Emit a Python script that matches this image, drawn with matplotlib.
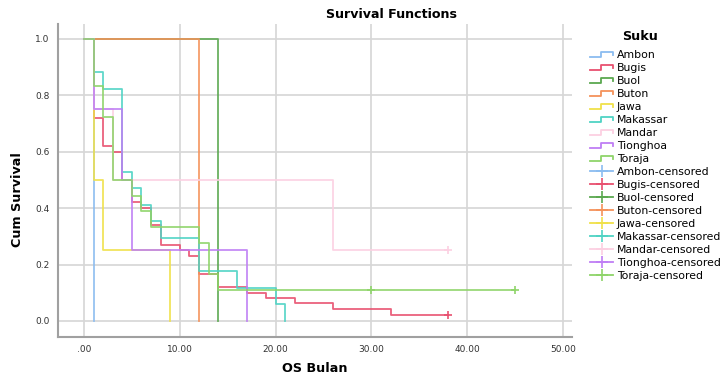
import numpy as np
import matplotlib.pyplot as plt
from matplotlib.lines import Line2D
from matplotlib.legend_handler import HandlerBase

# Kaplan-Meier curves per Suku (times in months, cumulative survival)
groups = ["Ambon", "Bugis", "Buol", "Buton", "Jawa", "Makassar", "Mandar", "Tionghoa", "Toraja"]

ambon_t = [0, 1]
ambon_s = [1.0, 0.0]

bugis_t = [0, 1, 2, 3, 4, 5, 6, 7, 8, 10, 11, 12, 14, 17, 19, 22, 26, 32, 38]
bugis_s = [1.0, 0.72, 0.62, 0.60, 0.50, 0.42, 0.40, 0.34, 0.27, 0.25, 0.23, 0.165, 0.12, 0.10,
           0.083, 0.062, 0.042, 0.021, 0.021]

buol_t = [0, 14]
buol_s = [1.0, 0.0]

buton_t = [0, 12]
buton_s = [1.0, 0.0]

jawa_t = [0, 1, 2, 9]
jawa_s = [1.0, 0.5, 0.25, 0.0]

makassar_t = [0, 1, 2, 4, 5, 6, 7, 8, 12, 16, 20, 21]
makassar_s = [1.0, 0.882, 0.824, 0.529, 0.471, 0.412, 0.353, 0.294, 0.176, 0.118, 0.059, 0.0]

mandar_t = [0, 1, 3, 26, 38]
mandar_s = [1.0, 0.75, 0.5, 0.25, 0.25]

tionghoa_t = [0, 1, 4, 5, 17]
tionghoa_s = [1.0, 0.75, 0.5, 0.25, 0.0]

toraja_t = [0, 1, 2, 3, 5, 6, 7, 12, 13, 14, 45]
toraja_s = [1.0, 0.833, 0.722, 0.5, 0.444, 0.389, 0.333, 0.278, 0.167, 0.111, 0.111]

# censored observations (time, survival)
cens_bugis = ([38], [0.021])
cens_mandar = ([38], [0.25])
cens_toraja = ([30, 45], [0.111, 0.111])

curves = {
    "Ambon": (ambon_t, ambon_s, None),
    "Bugis": (bugis_t, bugis_s, cens_bugis),
    "Buol": (buol_t, buol_s, None),
    "Buton": (buton_t, buton_s, None),
    "Jawa": (jawa_t, jawa_s, None),
    "Makassar": (makassar_t, makassar_s, None),
    "Mandar": (mandar_t, mandar_s, cens_mandar),
    "Tionghoa": (tionghoa_t, tionghoa_s, None),
    "Toraja": (toraja_t, toraja_s, cens_toraja),
}

colors = {
    "Ambon": "#8bbcf0",
    "Bugis": "#e8506f",
    "Buol": "#5aa84f",
    "Buton": "#f5925a",
    "Jawa": "#f0e14a",
    "Makassar": "#4fd3c4",
    "Mandar": "#fcd0e2",
    "Tionghoa": "#bf7ef5",
    "Toraja": "#8fd46a",
}


class StepHandler(HandlerBase):
    # small step-shaped legend icon like SPSS
    def create_artists(self, legend, orig, xd, yd, w, h, fs, trans):
        xs = np.array([0, 0.45, 0.45, 1.0, 1.0]) * w - xd
        ys = np.array([0.2, 0.2, 0.8, 0.8, 0.45]) * h - yd
        ln = Line2D(xs, ys, color=orig.get_color(), lw=orig.get_linewidth())
        ln.set_transform(trans)
        return [ln]


fig = plt.figure(figsize=(7.23, 3.8), dpi=100)
ax = fig.add_axes([58/723, 1 - 337/380, (572-58)/723, (337-24)/380])

line_handles = []
cens_handles = []
for g in groups:
    t, s, cens = curves[g]
    ln, = ax.step(t, s, where="post", color=colors[g], lw=1.3, alpha=0.9)
    line_handles.append(ln)
    if cens is not None:
        ax.plot(cens[0], cens[1], "+", color=colors[g], ms=6, mew=1.2)
    cens_handles.append(Line2D([], [], color=colors[g], lw=1.3, marker="+", ms=8, mew=1.2))

ax.set_xlim(-2.71, 50.94)
ax.set_ylim(-0.057, 1.053)
ax.set_xticks([0, 10, 20, 30, 40, 50])
ax.set_xticklabels([".00", "10.00", "20.00", "30.00", "40.00", "50.00"])
ax.set_yticks([0, 0.2, 0.4, 0.6, 0.8, 1.0])
ax.set_yticklabels(["0.0", "0.2", "0.4", "0.6", "0.8", "1.0"])
ax.tick_params(length=0, labelsize=6.5, colors="#333333", pad=6)
ax.grid(True, color="#d6d6d6", lw=1.2)
ax.set_axisbelow(True)
for sp in ["top", "right"]:
    ax.spines[sp].set_visible(False)
for sp in ["left", "bottom"]:
    ax.spines[sp].set_color("#a0a0a0")
    ax.spines[sp].set_linewidth(1.5)

fig.text(392/723, 1 - 14/380, "Survival Functions", ha="center", va="center",
         fontsize=9.1, fontweight="bold")
fig.text(18/723, 1 - 200/380, "Cum Survival", rotation=90, ha="center", va="center",
         fontsize=9.2, fontweight="bold")
fig.text(315/723, 1 - 368/380, "OS Bulan", ha="center", va="center",
         fontsize=9.2, fontweight="bold")
fig.text(640/723, 1 - 36/380, "Suku", ha="center", va="center",
         fontsize=9.2, fontweight="bold")

handles = line_handles + cens_handles
labels = groups + [g + "-censored" for g in groups]
hmap = {h: StepHandler() for h in line_handles}
fig.legend(handles, labels, handler_map=hmap, loc="upper left",
           bbox_to_anchor=(586/723, 1 - 46/380), frameon=False,
           fontsize=7.8, handlelength=2.1, handletextpad=0.35,
           labelspacing=0.275, borderaxespad=0)

plt.savefig("out.png", dpi=100)
